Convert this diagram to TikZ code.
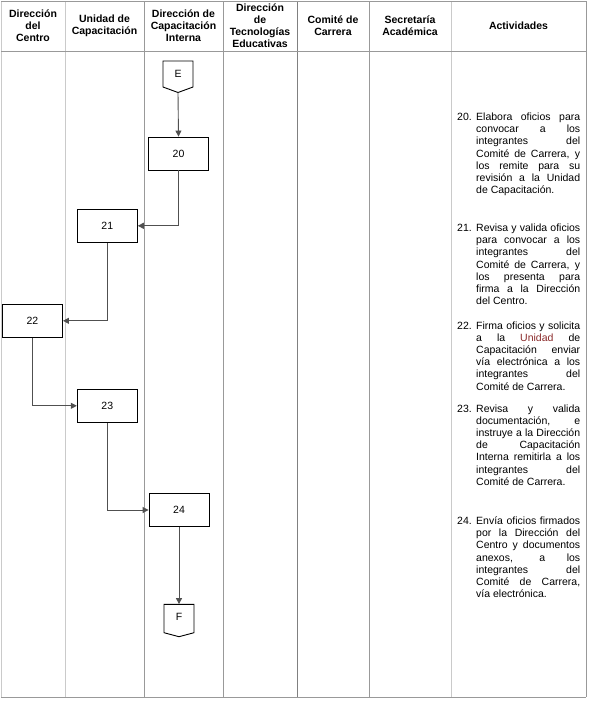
\documentclass[tikz,border=0pt]{standalone}
\usepackage{fontspec}
\setmainfont{Liberation Sans}
\usetikzlibrary{arrows.meta}
\definecolor{lnA}{HTML}{CACACA}
\definecolor{lnB}{HTML}{999999}
\definecolor{lnC}{HTML}{808080}
\definecolor{conn}{HTML}{505050}
\definecolor{unid}{HTML}{8A2A2A}
\newcommand{\jl}[1]{\makebox[104pt][s]{#1}}
\newcommand{\actpar}[1]{\parbox[t]{104pt}{\fontsize{10.5}{12.2}\selectfont #1}}
\tikzset{
  hdr/.style={font=\bfseries\fontsize{10.5}{12}\selectfont, align=center, inner sep=0pt},
  stepbox/.style={draw=black, line width=0.9pt, minimum width=60pt, minimum height=33pt, inner sep=0pt, font=\fontsize{10.5}{12}\selectfont},
  conn/.style={draw=conn, line width=0.9pt, -{Triangle[length=6pt,width=6pt]}},
  acttxt/.style={anchor=base west, inner sep=0pt},
  actnum/.style={anchor=base west, inner sep=0pt, font=\fontsize{10.5}{12.2}\selectfont},
  tbl/.style={line width=0.9pt}
}
\begin{document}
\begin{tikzpicture}[x=1pt,y=-1pt]
\useasboundingbox (0,0) rectangle (590,702);
% table
\draw[tbl,lnA] (1,1) -- (1,697);
\draw[tbl,lnA] (65,1) -- (65,697);
\draw[tbl,lnB] (144,1) -- (144,697);
\draw[tbl,lnB] (223,1) -- (223,697);
\draw[tbl,lnC] (297,1) -- (297,697);
\draw[tbl,lnB] (369,1) -- (369,697);
\draw[tbl,lnA] (451,1) -- (451,697);
\draw[tbl,lnB] (586,1) -- (586,697);
\draw[tbl,lnB] (1,1) -- (586,1);
\draw[tbl,lnB] (1,51) -- (586,51);
\draw[tbl,lnB] (1,697) -- (586,697);
% headers
\node[hdr] (h1) at (33,26) {Dirección\\del\\Centro};
\node[hdr] (h2) at (104.5,26) {Unidad de\\Capacitación};
\node[hdr] (h3) at (183.5,26) {Dirección de\\Capacitación\\Interna};
\node[hdr] (h4) at (260,26) {Dirección\\de\\Tecnologías\\Educativas};
\node[hdr] (h5) at (333,26) {Comité de\\Carrera};
\node[hdr] (h6) at (410,26) {Secretaría\\Académica};
\node[hdr] (h7) at (518.5,26) {Actividades};
% flow
\draw[black, line width=0.9pt] (163,61) -- (193,61) -- (193,87) -- (178,92.5) -- (163,87) -- cycle;
\node[inner sep=0pt, minimum width=30pt, minimum height=31.5pt] (E) at (178,76.75) {};
\node[font=\fontsize{10.5}{12}\selectfont, inner sep=0pt] (Et) at (178,73.5) {E};
\node[stepbox] (s20) at (178.5,153.5) {20};
\node[stepbox] (s21) at (107.3,225.8) {21};
\node[stepbox] (s22) at (32.5,320.8) {22};
\node[stepbox] (s23) at (107.3,405.8) {23};
\node[stepbox] (s24) at (179,510) {24};
\draw[black, line width=0.9pt] (164,604.3) -- (194,604.3) -- (194,632.7) -- (179,636.7) -- (164,632.7) -- cycle;
\node[inner sep=0pt, minimum width=30pt, minimum height=32.4pt] (F) at (179,620.5) {};
\node[font=\fontsize{10.5}{12}\selectfont, inner sep=0pt] (Ft) at (179,616.7) {F};
\draw[conn] (E.south) -- (s20.north);
\draw[conn] (s20.south) |- (s21.east);
\draw[conn] (s21.south) |- (s22.east);
\draw[conn] (s22.south) |- (s23.west);
\draw[conn] (s23.south) |- (s24.west);
\draw[conn] (s24.south) -- (F.north);
% activities
\node[actnum] (n20) at (457,120.5) {20.};
\node[acttxt] (a20) at (476,120.5) {\actpar{\jl{Elabora oficios para}\\\jl{convocar a los}\\\jl{integrantes del}\\\jl{Comité de Carrera, y}\\\jl{los remite para su}\\\jl{revisión a la Unidad}\\de Capacitación.}};
\node[actnum] (n21) at (457,231.5) {21.};
\node[acttxt] (a21) at (476,231.5) {\actpar{\jl{Revisa y valida oficios}\\\jl{para convocar a los}\\\jl{integrantes del}\\\jl{Comité de Carrera, y}\\\jl{los presenta para}\\\jl{firma a la Dirección}\\del Centro.}};
\node[actnum] (n22) at (457,329) {22.};
\node[acttxt] (a22) at (476,329) {\actpar{\jl{Firma oficios y solicita}\\\jl{a la \textcolor{unid}{Unidad} de}\\\jl{Capacitación enviar}\\\jl{vía electrónica a los}\\\jl{integrantes del}\\Comité de Carrera.}};
\node[actnum] (n23) at (457,412) {23.};
\node[acttxt] (a23) at (476,412) {\actpar{\jl{Revisa y valida}\\\jl{documentación, e}\\\jl{instruye a la Dirección}\\\jl{de Capacitación}\\\jl{Interna remitirla a los}\\\jl{integrantes del}\\Comité de Carrera.}};
\node[actnum] (n24) at (457,524.5) {24.};
\node[acttxt] (a24) at (476,524.5) {\actpar{\jl{Envía oficios firmados}\\\jl{por la Dirección del}\\\jl{Centro y documentos}\\\jl{anexos, a los}\\\jl{integrantes del}\\\jl{Comité de Carrera,}\\vía electrónica.}};
\end{tikzpicture}
\end{document}
